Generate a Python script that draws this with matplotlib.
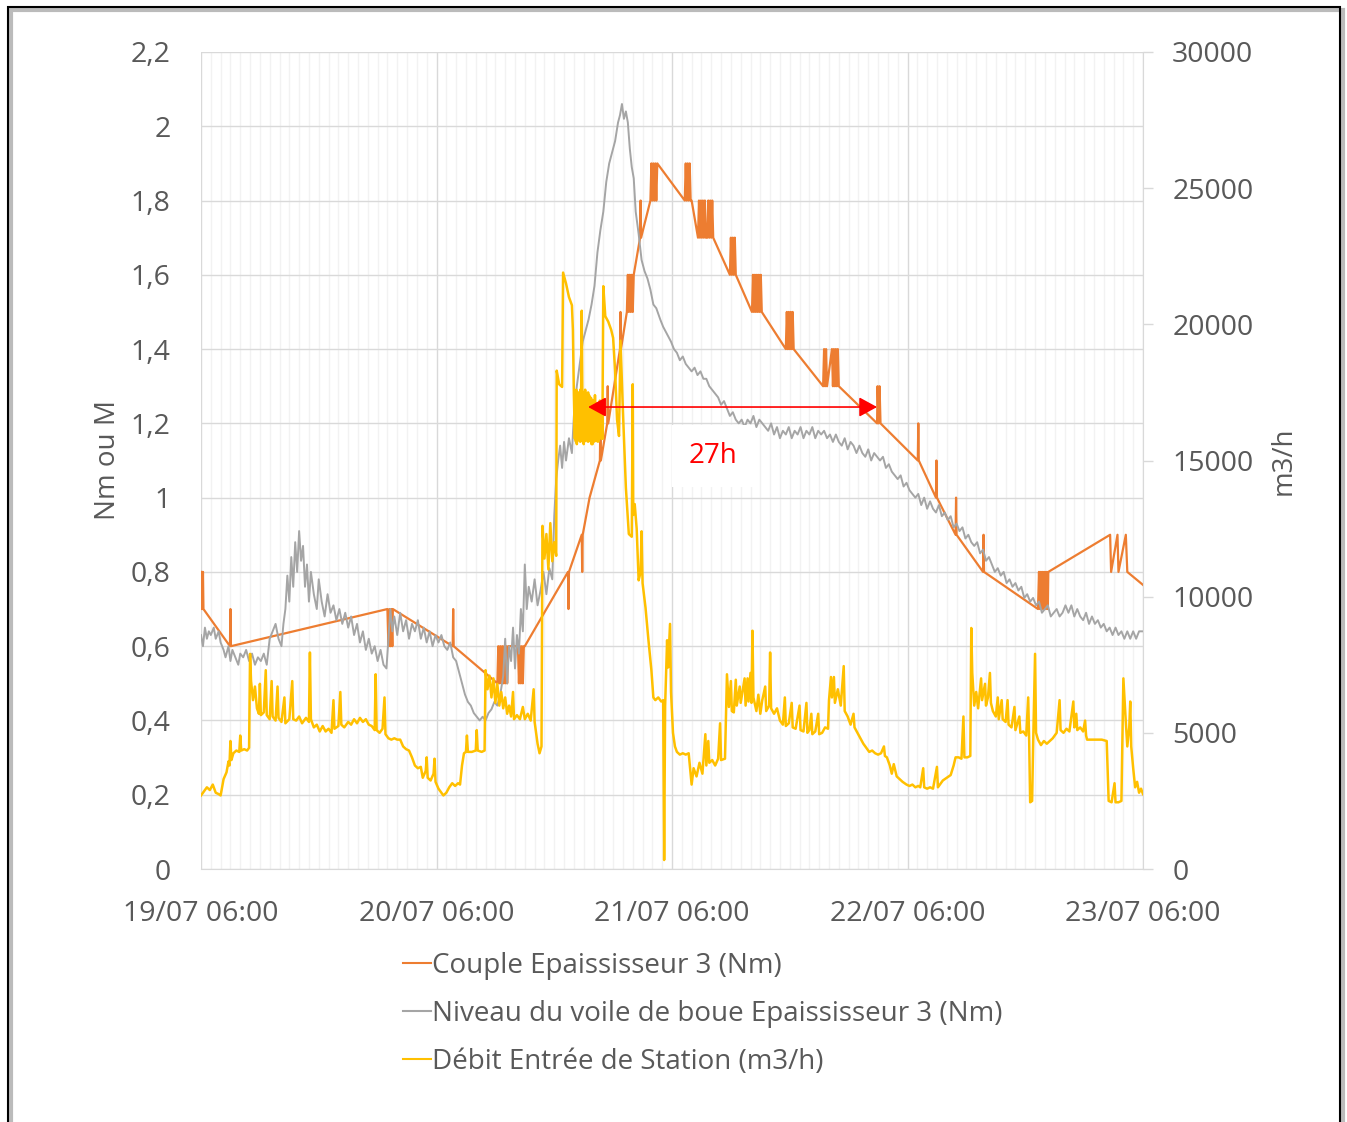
import numpy as np
import pandas as pd
import matplotlib
matplotlib.use("Agg")
import matplotlib.pyplot as plt
import matplotlib.dates as mdates
from matplotlib.lines import Line2D
from matplotlib.patches import Rectangle
from matplotlib.ticker import FuncFormatter

plt.rcParams["font.family"] = ["Open Sans", "DejaVu Sans"]

# time axis: hours after 19/07 06:00
start = pd.Timestamp("2021-07-19 06:00")
span_h = 96

# Couple Epaississeur 3 (Nm) - left axis
couple_h = [0.00, 0.05, 0.10, 0.15, 0.20, 0.25, 2.95, 3.00, 3.05,
            19.00, 19.10, 19.20, 19.30, 19.40, 19.50, 19.55, 25.65, 25.70, 25.75,
            30.20, 30.30, 30.40, 30.50, 30.60, 30.70, 30.80, 30.90, 31.00, 31.10, 31.20, 31.30,
            32.30, 32.40, 32.50, 32.60, 32.70, 32.80, 32.90, 33.00,
            37.40, 37.45, 37.50, 38.80, 38.85, 38.90, 39.60, 40.65, 40.70, 40.75,
            41.40, 41.45, 41.50, 42.70, 42.75, 42.80, 43.40,
            43.50, 43.60, 43.70, 43.80, 43.90, 44.00, 44.10,
            44.75, 44.80, 44.85, 45.80,
            45.90, 46.00, 46.10, 46.20, 46.30, 46.40, 46.50,
            49.30, 49.40, 49.50, 49.60, 49.70, 49.80, 49.90, 50.00,
            50.65, 50.75, 50.85, 50.95, 51.05, 51.15, 51.25, 51.35, 51.45,
            51.60, 51.70, 51.80, 51.90, 52.00, 52.10, 52.20,
            53.90, 54.00, 54.10, 54.20, 54.30, 54.40, 54.50,
            56.15, 56.25, 56.35, 56.45, 56.55, 56.65, 56.75, 56.85, 56.95, 57.05, 57.15,
            59.60, 59.70, 59.80, 59.90, 60.00, 60.10, 60.20, 60.30, 60.40,
            63.40, 63.50, 63.60, 63.70, 63.80, 64.30, 64.40, 64.50, 64.60, 64.70, 64.80, 64.90, 65.00,
            68.90, 68.95, 69.05, 69.15, 69.25,
            73.05, 73.10, 73.15, 74.90, 74.95, 75.00, 76.90, 76.95, 77.00, 79.70, 79.75, 79.80,
            85.30, 85.40, 85.50, 85.60, 85.70, 85.80, 85.90, 86.00, 86.10, 86.20, 86.30, 86.35,
            92.65, 92.75, 93.40, 93.50, 94.25, 94.40, 96.00]
couple_nm = [0.80, 0.70, 0.80, 0.70, 0.80, 0.70, 0.60, 0.70, 0.60,
             0.70, 0.60, 0.70, 0.60, 0.70, 0.60, 0.70, 0.60, 0.70, 0.60,
             0.50, 0.60, 0.50, 0.60, 0.50, 0.60, 0.50, 0.60, 0.50, 0.60, 0.50, 0.60,
             0.60, 0.50, 0.60, 0.50, 0.60, 0.50, 0.60, 0.60,
             0.80, 0.70, 0.80, 0.90, 0.80, 0.90, 1.00, 1.10, 1.20, 1.10,
             1.20, 1.30, 1.20, 1.40, 1.50, 1.40, 1.50,
             1.60, 1.50, 1.60, 1.50, 1.60, 1.50, 1.60,
             1.70, 1.80, 1.70, 1.80,
             1.90, 1.80, 1.90, 1.80, 1.90, 1.80, 1.90,
             1.80, 1.90, 1.80, 1.90, 1.80, 1.90, 1.80, 1.80,
             1.70, 1.80, 1.70, 1.80, 1.70, 1.80, 1.70, 1.80, 1.70,
             1.70, 1.80, 1.70, 1.80, 1.70, 1.80, 1.70,
             1.60, 1.70, 1.60, 1.70, 1.60, 1.70, 1.60,
             1.50, 1.60, 1.50, 1.60, 1.50, 1.60, 1.50, 1.60, 1.50, 1.60, 1.50,
             1.40, 1.50, 1.40, 1.50, 1.40, 1.50, 1.40, 1.50, 1.40,
             1.30, 1.40, 1.30, 1.40, 1.30, 1.40, 1.30, 1.40, 1.30, 1.40, 1.30, 1.40, 1.30,
             1.20, 1.30, 1.20, 1.30, 1.20,
             1.10, 1.20, 1.10, 1.00, 1.10, 1.00, 0.90, 1.00, 0.90, 0.80, 0.90, 0.80,
             0.70, 0.80, 0.70, 0.80, 0.70, 0.80, 0.70, 0.80, 0.70, 0.80, 0.70, 0.80,
             0.90, 0.80, 0.90, 0.80, 0.90, 0.80, 0.765]

# Niveau du voile de boue Epaississeur 3 (Nm) - left axis
voile_h = [0.0, 0.2, 0.4, 0.6, 0.8, 1.0, 1.3, 1.5, 1.8, 2.0, 2.3, 2.5, 2.8, 3.0, 3.2, 3.5, 3.8,
           4.0, 4.3, 4.6, 4.9, 5.2, 5.5, 5.8, 6.1, 6.4, 6.7, 7.0, 7.3, 7.6, 7.9, 8.2, 8.4, 8.6,
           8.8, 9.0, 9.2, 9.4, 9.6, 9.8, 10.0, 10.2, 10.4, 10.6, 10.8, 11.0, 11.2, 11.5, 11.8,
           12.0, 12.3, 12.6, 12.9, 13.2, 13.5, 13.8, 14.1, 14.4, 14.7, 15.0, 15.3, 15.6, 15.9,
           16.2, 16.5, 16.8, 17.1, 17.4, 17.7, 18.0, 18.3, 18.6, 18.9, 19.1, 19.3, 19.5, 19.7,
           20.0, 20.3, 20.6, 20.9, 21.2, 21.5, 21.8, 22.1, 22.4, 22.7, 23.0, 23.3, 23.6, 23.9,
           24.2, 24.5, 24.8, 25.1, 25.4, 25.7, 26.0, 26.3, 26.6, 26.9, 27.2, 27.5, 27.8, 28.1,
           28.4, 28.7, 29.0, 29.3, 29.6, 29.9, 30.2, 30.5, 30.8, 31.0, 31.2, 31.4, 31.6, 31.8,
           32.0, 32.2, 32.4, 32.6, 32.8, 33.0, 33.2, 33.4, 33.7, 34.0, 34.3, 34.6, 34.9, 35.2,
           35.5, 35.8, 36.0, 36.2, 36.4, 36.6, 36.8, 37.0, 37.2, 37.5, 37.8,
           38.0, 38.3, 38.6, 38.9, 39.2, 39.5, 39.8, 40.1, 40.4, 40.7, 41.0, 41.3, 41.6, 41.9,
           42.2, 42.5, 42.7, 42.9, 43.1, 43.3, 43.5, 43.7, 43.9, 44.1, 44.3, 44.6, 44.9, 45.2,
           45.5, 45.8, 46.1, 46.4, 46.8, 47.1, 47.5, 47.9, 48.2, 48.5, 48.8, 49.1, 49.4, 49.7,
           50.0, 50.3, 50.6, 50.9, 51.2, 51.5, 51.8, 52.1, 52.4, 52.7, 53.0, 53.3, 53.6, 53.9,
           54.2, 54.5, 54.8, 55.1, 55.4, 55.7, 56.0, 56.3, 56.6, 56.9, 57.2, 57.5, 57.8, 58.1,
           58.4, 58.7, 59.0, 59.3, 59.6, 59.9, 60.2, 60.5, 60.8, 61.1, 61.4, 61.7, 62.0, 62.3,
           62.6, 62.9, 63.2, 63.5, 63.8, 64.1, 64.4, 64.7, 65.0, 65.3, 65.6, 65.9, 66.2, 66.5,
           66.8, 67.1, 67.4, 67.7, 68.0, 68.3, 68.6, 68.9, 69.2, 69.5, 69.8, 70.1, 70.4, 70.7,
           71.0, 71.3, 71.6, 71.9, 72.2, 72.5, 72.8, 73.1, 73.4, 73.7, 74.0, 74.3, 74.6, 74.9,
           75.2, 75.5, 75.8, 76.1, 76.4, 76.7, 77.0, 77.3, 77.6, 77.9, 78.2, 78.5, 78.8, 79.1,
           79.4, 79.7, 80.0, 80.3, 80.6, 80.9, 81.2, 81.5, 81.8, 82.1, 82.4, 82.7, 83.0, 83.3,
           83.6, 83.9, 84.2, 84.5, 84.8, 85.1, 85.4, 85.7, 86.0, 86.3, 86.6, 86.9, 87.2, 87.5,
           87.8, 88.1, 88.4, 88.7, 89.0, 89.3, 89.6, 89.9, 90.2, 90.5, 90.8, 91.1, 91.4, 91.7,
           92.0, 92.3, 92.6, 92.9, 93.2, 93.5, 93.8, 94.1, 94.4, 94.7, 95.0, 95.3, 95.6, 96.0]
voile_nm = [0.63, 0.60, 0.65, 0.62, 0.64, 0.63, 0.65, 0.62, 0.64, 0.61, 0.59, 0.57, 0.60, 0.56, 0.59, 0.57, 0.55,
            0.58, 0.57, 0.59, 0.56, 0.58, 0.55, 0.57, 0.56, 0.58, 0.55, 0.62, 0.64, 0.66, 0.62, 0.60, 0.66, 0.70,
            0.79, 0.72, 0.84, 0.76, 0.88, 0.80, 0.91, 0.83, 0.87, 0.76, 0.82, 0.72, 0.80, 0.74, 0.70,
            0.78, 0.72, 0.68, 0.74, 0.69, 0.71, 0.67, 0.70, 0.66, 0.69, 0.65, 0.68, 0.63, 0.66,
            0.61, 0.64, 0.59, 0.62, 0.58, 0.60, 0.56, 0.59, 0.55, 0.54, 0.62, 0.70, 0.64, 0.68,
            0.63, 0.69, 0.64, 0.67, 0.62, 0.66, 0.64, 0.67, 0.62, 0.65, 0.61, 0.64, 0.60, 0.63,
            0.61, 0.63, 0.60, 0.59, 0.61, 0.57, 0.56, 0.53, 0.50, 0.47, 0.45, 0.44, 0.42, 0.41,
            0.40, 0.41, 0.40, 0.42, 0.43, 0.45, 0.44, 0.47, 0.52, 0.62, 0.50, 0.60, 0.56, 0.65,
            0.54, 0.63, 0.58, 0.70, 0.64, 0.82, 0.70, 0.76, 0.72, 0.78, 0.71, 0.75, 0.80, 0.74,
            0.81, 0.78, 0.95, 1.05, 1.10, 1.14, 1.08, 1.15, 1.10, 1.16, 1.12,
            1.22, 1.30, 1.36, 1.42, 1.45, 1.48, 1.52, 1.57, 1.66, 1.72, 1.77, 1.85, 1.90, 1.93,
            1.96, 2.01, 2.03, 2.06, 2.02, 2.04, 2.01, 1.94, 1.89, 1.86, 1.77, 1.71, 1.64, 1.61,
            1.59, 1.56, 1.52, 1.51, 1.48, 1.46, 1.44, 1.42, 1.40, 1.39, 1.37, 1.38, 1.36, 1.35,
            1.34, 1.35, 1.33, 1.34, 1.32, 1.32, 1.30, 1.29, 1.28, 1.27, 1.25, 1.26, 1.24, 1.22,
            1.23, 1.21, 1.20, 1.21, 1.19, 1.21, 1.20, 1.22, 1.19, 1.21, 1.20, 1.19, 1.18, 1.20,
            1.17, 1.19, 1.16, 1.18, 1.17, 1.19, 1.16, 1.18, 1.17, 1.19, 1.16, 1.18, 1.17, 1.19,
            1.16, 1.18, 1.17, 1.18, 1.16, 1.17, 1.15, 1.17, 1.15, 1.14, 1.16, 1.13, 1.15, 1.14,
            1.12, 1.14, 1.12, 1.11, 1.13, 1.10, 1.12, 1.11, 1.10, 1.11, 1.08, 1.09, 1.07, 1.06,
            1.05, 1.06, 1.03, 1.04, 1.02, 1.01, 1.00, 1.01, 0.98, 1.00, 0.97, 0.99, 0.97, 0.96,
            0.98, 0.95, 0.96, 0.94, 0.95, 0.92, 0.93, 0.91, 0.92, 0.89, 0.90, 0.88, 0.87, 0.88,
            0.85, 0.86, 0.83, 0.84, 0.82, 0.80, 0.81, 0.79, 0.80, 0.77, 0.78, 0.76, 0.77, 0.75,
            0.76, 0.73, 0.74, 0.72, 0.73, 0.71, 0.72, 0.69, 0.70, 0.71, 0.68, 0.69, 0.70, 0.68,
            0.69, 0.71, 0.69, 0.71, 0.68, 0.70, 0.68, 0.67, 0.69, 0.66, 0.68, 0.66, 0.67, 0.65,
            0.66, 0.64, 0.65, 0.63, 0.65, 0.63, 0.64, 0.62, 0.64, 0.62, 0.64, 0.62, 0.64, 0.64]

# Débit Entrée de Station (m3/h) - right axis
debit_h = [0.0, 0.3, 0.6, 0.9, 1.2, 1.5, 1.8, 2.0, 2.3, 2.6, 2.8, 2.9, 3.0, 3.1, 3.3, 3.6, 3.9,
           4.0, 4.1, 4.4, 4.7, 4.9, 5.0, 5.1, 5.3, 5.5, 5.7, 5.9, 6.0, 6.1, 6.4, 6.6, 6.7, 7.0,
           7.2, 7.3, 7.6, 7.8, 7.9, 8.2, 8.5, 8.6, 9.0, 9.3, 9.4, 9.7, 10.0, 10.3, 10.7, 11.0,
           11.1, 11.2, 11.5, 11.8, 12.1, 12.4, 12.7, 13.0, 13.3, 13.5, 13.6, 14.0, 14.2, 14.3,
           14.6, 15.0, 15.3, 15.6, 15.9, 16.2, 16.5, 16.8, 17.1, 17.4, 17.7, 17.8, 17.9, 18.2,
           18.5, 18.7, 18.8, 19.1, 19.4, 19.7, 20.0, 20.3, 20.6, 20.9, 21.2, 21.5, 21.8, 22.1,
           22.4, 22.6, 22.9, 23.0, 23.1, 23.4, 23.7, 23.8, 23.9, 24.2, 24.5, 24.7, 25.0, 25.3,
           25.6, 25.9, 26.2, 26.4, 26.6, 26.8, 27.0, 27.1, 27.2, 27.6, 28.0, 28.1, 28.2, 28.6,
           28.9, 29.0, 29.2, 29.4, 29.6, 29.8, 30.0, 30.2, 30.4, 30.6, 30.8, 31.0, 31.2, 31.4,
           31.6, 31.8, 31.9, 32.2, 32.5, 32.8, 33.0, 33.3, 33.6, 33.9, 34.0, 34.3, 34.5, 34.7,
           34.8, 35.0, 35.2, 35.4, 35.6, 35.8, 36.0, 36.2, 36.25, 36.5, 36.8, 36.9, 37.2, 37.5,
           37.8, 37.9, 38.0, 38.1, 38.15, 38.2, 38.25, 38.3, 38.35, 38.4, 38.45, 38.5, 38.55,
           38.6, 38.65, 38.7, 38.8, 38.9, 38.95, 39.0, 39.05, 39.1, 39.15, 39.2, 39.25, 39.3,
           39.35, 39.4, 39.45, 39.5, 39.55, 39.6, 39.65, 39.7, 39.75, 39.8, 39.85, 39.9, 39.95,
           40.0, 40.05, 40.1, 40.15, 40.2, 40.25, 40.3, 40.35, 40.4, 40.45, 40.5, 40.55, 40.6,
           40.65, 40.7, 40.75, 40.8, 40.85, 40.9, 41.0, 41.2, 41.5, 41.8, 42.0, 42.2, 42.4, 42.6,
           42.75, 43.0,
           43.3, 43.6, 43.9, 44.0, 44.05, 44.2, 44.4, 44.6, 44.8, 44.9, 45.0, 45.3, 45.6, 45.9,
           46.1, 46.3, 46.6, 46.9, 47.1, 47.2, 47.3, 47.5, 47.6, 47.8, 47.9, 48.1, 48.3, 48.5,
           48.8, 49.1, 49.4, 49.7, 50.0, 50.2, 50.5, 50.8, 51.1, 51.4, 51.5, 51.7, 51.8, 52.1,
           52.4, 52.7, 52.9, 53.0, 53.4, 53.6, 53.8, 54.0, 54.1, 54.3, 54.5, 54.6, 54.9, 55.0,
           55.4, 55.5, 55.7, 55.8, 56.0, 56.1, 56.2, 56.3, 56.6, 56.8, 57.0, 57.2, 57.5, 57.6,
           57.9, 58.0, 58.1, 58.4, 58.7, 59.0, 59.3, 59.5, 59.6, 59.9, 60.2, 60.3, 60.6, 61.0,
           61.1, 61.4, 61.7, 61.8, 62.0, 62.2, 62.3, 62.6, 62.9, 63.0, 63.3, 63.6, 63.9, 64.0,
           64.2, 64.3, 64.5, 64.6, 64.9, 65.2, 65.5, 65.6, 65.9, 66.2, 66.5, 66.6, 66.9, 67.2,
           67.5, 67.8, 68.1, 68.4, 68.7, 69.0, 69.3, 69.6, 69.7, 69.9, 70.2, 70.4, 70.6, 70.9,
           71.2, 71.5, 71.9, 72.2, 72.5, 72.8, 73.1, 73.3, 73.6, 73.7, 74.0, 74.3, 74.6, 75.0,
           75.1, 75.3, 75.6, 76.0, 76.4, 76.7, 76.9, 77.2, 77.5, 77.7, 77.8, 78.1, 78.4, 78.5,
           78.6, 78.8, 79.0, 79.2, 79.5, 79.6, 79.9, 80.0, 80.2, 80.4, 80.5, 80.7, 81.0, 81.2,
           81.3, 81.6, 81.7, 82.0, 82.2, 82.3, 82.6, 82.9, 83.0, 83.4, 83.5, 83.8, 84.1, 84.3,
           84.4, 84.5, 84.7, 84.8, 85.0, 85.1, 85.3, 85.6, 85.9, 86.2, 86.5, 86.8, 87.0, 87.2,
           87.5, 87.6, 87.9, 88.2, 88.5, 88.9, 89.0, 89.2, 89.3, 89.6, 89.9, 90.1, 90.2, 90.3,
           90.8, 91.3, 91.8, 92.3, 92.5, 92.8, 93.1, 93.2, 93.5, 93.8, 94.0, 94.2, 94.4, 94.6,
           94.7, 94.8, 95.0, 95.2, 95.4, 95.6, 95.8, 96.0]
debit_m3h = [2700, 2850, 3000, 2900, 3100, 2800, 2750, 2700, 3300, 3550, 3950, 3800, 4700, 4000, 4250, 4350, 4300,
             4900, 4350, 4400, 4350, 4450, 7900, 6900, 6200, 6700, 5900, 5700, 6800, 5650, 5750, 7300, 5650, 5500,
             6900, 5600, 5450, 6700, 5550, 5400, 6300, 5350, 5500, 6900, 5500, 5450, 5600, 5350, 5550, 5400,
             7950, 5500, 5200, 5300, 5050, 5250, 5050, 5150, 5000, 6200, 5150, 5250, 6500, 5300,
             5200, 5400, 5300, 5500, 5350, 5550, 5400, 5500, 5300, 5250, 5100, 7150, 5100, 5000,
             5150, 6300, 4950, 4800, 4750, 4800, 4750, 4750, 4500, 4400, 4350, 4100, 3800, 3700,
             3750, 3350, 3600, 4100, 3350, 3250, 3500, 4050, 3200, 2950, 2800, 2700, 2800, 3000,
             3150, 3050, 3150, 3100, 3800, 4250, 4300, 4900, 4300, 4300, 4350, 5100, 4350, 4300,
             4350, 7300, 6600, 7100, 6300, 7000, 6100, 6800, 6000, 6500, 5900, 6300, 5700, 6000,
             5600, 6500, 5500, 5650, 5500, 5950, 5500, 5700, 5450, 6600, 5400, 4600, 4250, 4500,
             12600, 11400, 12300, 11000, 12700, 11300, 12000, 11500, 18300, 17800, 17700, 21900, 21500, 21000,
             20700, 19800, 17400, 15800, 17500, 15700, 17600, 15600, 17300, 15800, 17500, 15900, 17400,
             15700, 17600, 15700, 20500, 15800, 17400, 15600, 17500, 15700, 17600, 15800, 17300, 15800,
             17200, 15700, 17500, 15700, 17400, 15900, 17300, 15800, 17300, 15600, 17200, 15600, 17000,
             15700, 17200, 15700, 17400, 15800, 17100, 15800, 17000, 15700, 17100, 15700, 16900, 15900,
             17200, 15900, 17000, 15800, 16900, 15800, 21400, 20300, 20100, 19800, 19500, 18300, 16500, 15900,
             19400, 16800,
             14000, 12300, 12200, 17800, 13000, 13400, 12500, 10600, 10900, 12400, 10500, 9600, 8400, 7300,
             6300, 6200, 6300, 6150, 6200, 330, 6000, 8400, 7400, 9000, 6500, 5000, 4500, 4300,
             4200, 4250, 4200, 4250, 3100, 3700, 3400, 3900, 3500, 4950, 3800, 4700, 3900, 4000,
             3800, 4050, 5350, 4000, 4050, 7150, 5950, 6900, 5800, 5750, 6950, 6000, 6700, 6100,
             7000, 6000, 7000, 6150, 7200, 6100, 8750, 6300, 5800, 6400, 5700, 6200, 6700, 5800,
             6000, 7950, 5900, 5700, 5900, 5450, 5300, 6300, 5250, 5350, 6100, 5200, 5150, 6000,
             5100, 5050, 6100, 5000, 5100, 5700, 4950, 5050, 5700, 4950, 5000, 5200, 5150, 6200,
             7050, 6300, 7050, 6100, 6600, 6000, 7450, 5800, 5600, 5300, 5700, 5200, 5000, 4800,
             4600, 4450, 4300, 4350, 4250, 4200, 4250, 4500, 4150, 4100, 3800, 3500, 3850, 3400,
             3300, 3200, 3100, 3050, 3100, 3000, 3050, 3000, 3700, 3000, 2950, 3000, 2950, 3750,
             3000, 3100, 3250, 3350, 3450, 3800, 4100, 4100, 4050, 5600, 4100, 4100, 4150, 8850,
             7200, 6000, 6500, 5900, 7000, 6200, 6800, 6000, 6300, 7200, 6100, 5800, 5600, 6300,
             5500, 6200, 5500, 5400, 6200, 5300, 5200, 5950, 5100, 5600, 5000, 5050, 4900, 6300,
             4700, 2450, 2500, 4500, 7900, 5000, 4750, 4550, 4700, 4600, 4700, 4800, 4900, 5000,
             6200, 5100, 5000, 5150, 5050, 6150, 5200, 5700, 5100, 5200, 5050, 5450, 4900, 4750,
             4750, 4750, 4750, 4700, 2500, 2450, 3150, 2450, 2450, 2500, 7000, 5700, 4500, 5200,
             6150, 4500, 3700, 3000, 3200, 2800, 2950, 2750]

left_ticks = [0, 0.2, 0.4, 0.6, 0.8, 1.0, 1.2, 1.4, 1.6, 1.8, 2.0, 2.2]
right_ticks = [0, 5000, 10000, 15000, 20000, 25000, 30000]

# red double arrow (hours, Nm) and its label
arrow_h = [39.45, 68.9]
arrow_nm = 1.244
arrow_label = "27h"

c_orange = "#ED7D31"
c_grey = "#A5A5A5"
c_yellow = "#FFC000"
c_text = "#595959"
c_grid = "#D9D9D9"


def to_dates(hours):
    return start + pd.to_timedelta(np.asarray(hours, dtype=float), unit="h")


fig = plt.figure(figsize=(13.47, 11.22), dpi=100)
ax = fig.add_axes([201 / 1347, 253 / 1122, 942 / 1347, 817 / 1122])
ax2 = ax.twinx()

ax.plot(to_dates(couple_h), couple_nm, color=c_orange, lw=1.6, zorder=3)
ax.plot(to_dates(voile_h), voile_nm, color=c_grey, lw=1.4, zorder=4)
ax2.plot(to_dates(debit_h), debit_m3h, color=c_yellow, lw=1.8, zorder=3)

ax.set_xlim(start, start + pd.Timedelta(hours=span_h))
ax.set_ylim(0, 2.2)
ax2.set_ylim(0, 30000)

ax.set_yticks(left_ticks)
ax.yaxis.set_major_formatter(FuncFormatter(lambda v, p: f"{round(v, 1):g}".replace(".", ",")))
ax2.set_yticks(right_ticks)
ax2.yaxis.set_major_formatter(FuncFormatter(lambda v, p: f"{int(v)}"))

ax.xaxis.set_major_locator(mdates.HourLocator(byhour=[6]))
ax.xaxis.set_minor_locator(mdates.HourLocator())
ax.xaxis.set_major_formatter(mdates.DateFormatter("%d/%m %H:%M"))

ax.grid(which="major", axis="both", color=c_grid, lw=1.0, zorder=0)
ax.grid(which="minor", axis="x", color="#F2F2F2", lw=1.0, zorder=0)
ax.set_axisbelow(True)

for sp in ["top", "left", "right"]:
    ax.spines[sp].set_visible(False)
    ax2.spines[sp].set_visible(False)
ax2.spines["bottom"].set_visible(False)
ax.spines["bottom"].set_color(c_grid)
ax2.spines["right"].set_visible(True)
ax2.spines["right"].set_color(c_grid)

ax.tick_params(axis="x", which="both", length=0, pad=22.5, labelsize=20.5, labelcolor=c_text)
ax.tick_params(axis="y", length=0, pad=22, labelsize=20.5, labelcolor=c_text)
ax2.tick_params(axis="y", length=7, width=1, color=c_grid, pad=14, labelsize=20.5, labelcolor=c_text)

ax.set_ylabel("Nm ou M", fontsize=20, color=c_text)
ax.yaxis.set_label_coords(-0.0839, 0.5)
ax2.set_ylabel("m3/h", fontsize=20, color=c_text)
ax2.yaxis.set_label_coords(1.1348, 0.5)

# annotation 27h
ya = arrow_nm / 2.2 * 30000
ax2.annotate("", xy=(to_dates([arrow_h[1]])[0], ya), xytext=(to_dates([arrow_h[0]])[0], ya),
             arrowprops=dict(arrowstyle="<|-|>,head_length=0.55,head_width=0.3", color="red",
                             lw=1.2, shrinkA=0, shrinkB=0, mutation_scale=20), zorder=6)
ax2.text(to_dates([52.2])[0], 1.112 / 2.2 * 30000, arrow_label, color="red", fontsize=20,
         ha="center", va="center", zorder=6,
         bbox=dict(boxstyle="square,pad=0.6", facecolor="white", edgecolor="none"))

handles = [Line2D([], [], color=c_orange, lw=1.5),
           Line2D([], [], color=c_grey, lw=1.5),
           Line2D([], [], color=c_yellow, lw=1.5)]
labels = ["Couple Epaississeur 3 (Nm)",
          "Niveau du voile de boue Epaississeur 3 (Nm)",
          "Débit Entrée de Station (m3/h)"]
fig.legend(handles, labels, loc="upper left", bbox_to_anchor=(403 / 1347, 1 - 952 / 1122),
           frameon=False, fontsize=20, labelcolor=c_text, handlelength=1.0,
           handletextpad=0.05, labelspacing=0.72, borderpad=0, borderaxespad=0)

# chart frame with a soft shadow
fig.patches.append(Rectangle((11 / 1347, -0.02), 1332 / 1347, 1.02 - 10 / 1122,
                             transform=fig.transFigure, fill=False, edgecolor="#BBBBBB", lw=3))
fig.patches.append(Rectangle((8 / 1347, -0.02), 1332 / 1347, 1.02 - 7 / 1122,
                             transform=fig.transFigure, fill=False, edgecolor="black", lw=1.5))

fig.savefig("out.png", dpi=100)
